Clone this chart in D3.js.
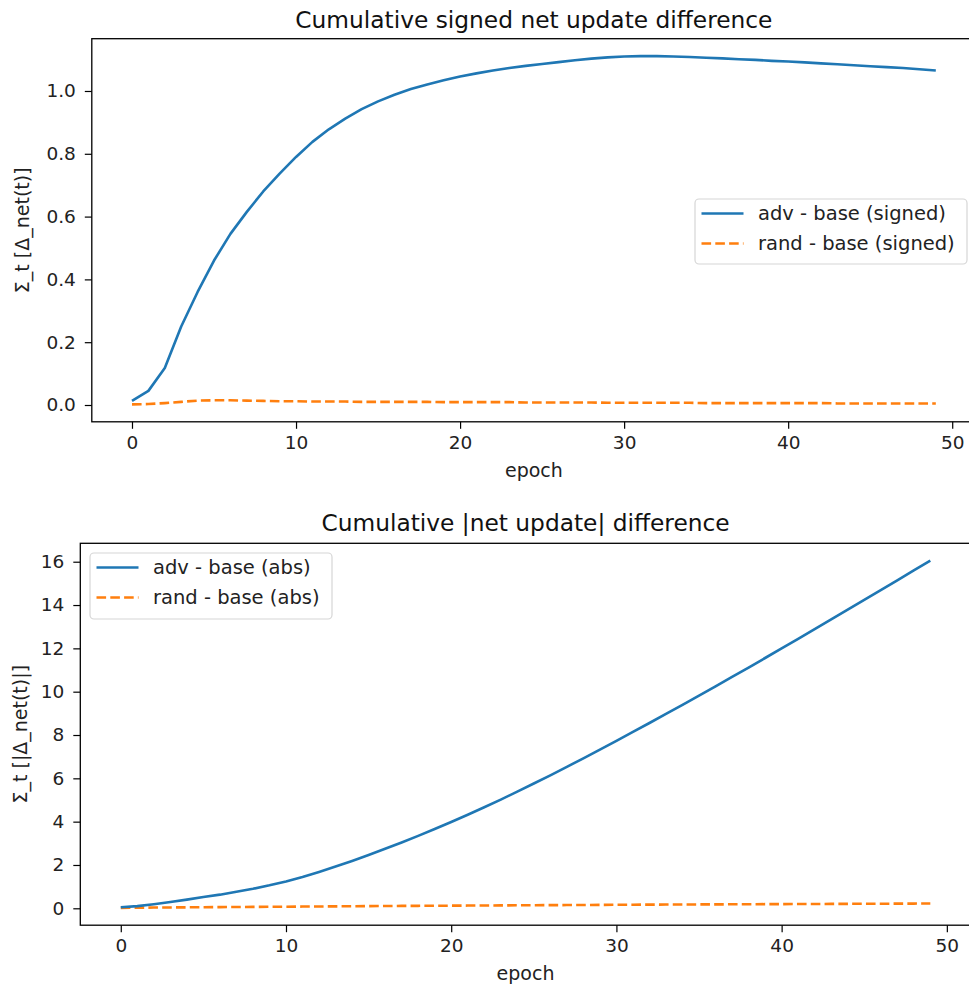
<!DOCTYPE html>
<html>
<head>
<meta charset="utf-8">
<script src="https://cdn.jsdelivr.net/npm/d3@7"></script>
<style>
  body { margin: 0; background: #fff; }
  svg { display: block; font-family: "DejaVu Sans", sans-serif; }
</style>
</head>
<body>
<svg id="chart" width="969" height="988"></svg>
<script>
// epochs 0..49
var epochs = d3.range(50);

var advSigned = [0.013, 0.045, 0.118, 0.25, 0.36, 0.46, 0.545, 0.615, 0.68, 0.737,
                 0.79, 0.838, 0.878, 0.912, 0.942, 0.967, 0.988, 1.006, 1.021, 1.034,
                 1.046, 1.056, 1.065, 1.073, 1.080, 1.086, 1.092, 1.098, 1.103, 1.107,
                 1.110, 1.111, 1.111, 1.110, 1.108, 1.106, 1.104, 1.101, 1.099, 1.096,
                 1.094, 1.091, 1.088, 1.085, 1.082, 1.079, 1.076, 1.073, 1.069, 1.065];

var randSigned = [0.002, 0.003, 0.006, 0.010, 0.014, 0.015, 0.015, 0.014, 0.013, 0.012,
                  0.012, 0.011, 0.011, 0.011, 0.010, 0.010, 0.010, 0.010, 0.010, 0.009,
                  0.009, 0.009, 0.009, 0.009, 0.008, 0.008, 0.008, 0.008, 0.008, 0.007,
                  0.007, 0.007, 0.007, 0.007, 0.007, 0.006, 0.006, 0.006, 0.006, 0.006,
                  0.006, 0.006, 0.006, 0.005, 0.005, 0.005, 0.005, 0.005, 0.005, 0.005];

var advAbs = [0.05, 0.10, 0.19, 0.29, 0.40, 0.52, 0.63, 0.76, 0.90, 1.06,
              1.24, 1.45, 1.68, 1.925, 2.185, 2.46, 2.745, 3.04, 3.345, 3.66,
              3.985, 4.32, 4.665, 5.02, 5.385, 5.76, 6.14, 6.53, 6.925, 7.325,
              7.73, 8.14, 8.555, 8.975, 9.395, 9.82, 10.25, 10.68, 11.115, 11.555,
              11.995, 12.44, 12.885, 13.335, 13.785, 14.235, 14.685, 15.14, 15.595, 16.05];

var randAbs = [0.02, 0.03, 0.035, 0.04, 0.045, 0.05, 0.055, 0.06, 0.065, 0.07,
               0.075, 0.08, 0.085, 0.09, 0.095, 0.10, 0.105, 0.11, 0.114, 0.118,
               0.122, 0.126, 0.13, 0.134, 0.138, 0.142, 0.146, 0.15, 0.154, 0.158,
               0.162, 0.166, 0.17, 0.173, 0.176, 0.179, 0.182, 0.185, 0.188, 0.191,
               0.194, 0.197, 0.2, 0.203, 0.206, 0.209, 0.212, 0.215, 0.218, 0.221];

var xTicks = [0, 10, 20, 30, 40, 50];
var topYTicks = [0.0, 0.2, 0.4, 0.6, 0.8, 1.0];
var botYTicks = [0, 2, 4, 6, 8, 10, 12, 14, 16];

var topTitle = "Cumulative signed net update difference";
var botTitle = "Cumulative |net update| difference";
var topYLabel = "Σ_t [Δ_net(t)]";
var botYLabel = "Σ_t [|Δ_net(t)|]";
var topNames = ["adv - base (signed)", "rand - base (signed)"];
var botNames = ["adv - base (abs)", "rand - base (abs)"];

var blue = "#1f77b4";
var orange = "#ff7f0e";

var svg = d3.select("#chart");
svg.append("rect").attr("width", 969).attr("height", 988).attr("fill", "#fff");

function drawPanel(p) {
    var g = svg.append("g");

    var x = d3.scaleLinear().domain([-2.45, 51.45]).range([p.left, p.right]);
    var y = d3.scaleLinear().domain(p.ydomain).range([p.bottom, p.top]);

    // lines
    var line = d3.line().x(function(d, i) { return x(epochs[i]); }).y(function(d) { return y(d); });

    g.append("path").datum(p.s2)
        .attr("d", line)
        .attr("fill", "none")
        .attr("stroke", orange)
        .attr("stroke-width", 2.6)
        .attr("stroke-dasharray", "9.6,4.2");

    g.append("path").datum(p.s1)
        .attr("d", line)
        .attr("fill", "none")
        .attr("stroke", blue)
        .attr("stroke-width", 2.6)
        .attr("stroke-linejoin", "round");

    // frame
    g.append("rect")
        .attr("x", p.left).attr("y", p.top)
        .attr("width", p.right - p.left).attr("height", p.bottom - p.top)
        .attr("fill", "none").attr("stroke", "#000").attr("stroke-width", 1.3);

    var xa = g.append("g")
        .attr("transform", "translate(0," + p.bottom + ")")
        .call(d3.axisBottom(x).tickValues(xTicks).tickSize(7).tickPadding(7).tickFormat(d3.format("d")));
    var ya = g.append("g")
        .attr("transform", "translate(" + p.left + ",0)")
        .call(d3.axisLeft(y).tickValues(p.yticks).tickSize(7).tickPadding(9).tickFormat(p.yfmt));

    [xa, ya].forEach(function(a) {
        a.select(".domain").remove();
        a.selectAll("line").attr("stroke", "#000").attr("stroke-width", 1.2);
        a.selectAll("text").attr("fill", "#222").attr("font-size", "18.5px")
            .attr("font-family", "DejaVu Sans, sans-serif");
    });

    // titles and labels
    g.append("text")
        .attr("x", (p.left + p.right) / 2).attr("y", p.titleY)
        .attr("text-anchor", "middle").attr("font-size", "23.3px").attr("fill", "#111")
        .text(p.title);

    g.append("text")
        .attr("x", (p.left + p.right) / 2).attr("y", p.bottom + 55)
        .attr("text-anchor", "middle").attr("font-size", "19px").attr("fill", "#222")
        .text("epoch");

    g.append("text")
        .attr("transform", "translate(" + p.ylabX + "," + ((p.top + p.bottom) / 2) + ") rotate(-90)")
        .attr("text-anchor", "middle").attr("font-size", "19px").attr("fill", "#222")
        .text(p.ylabel);

    // legend
    var lg = g.append("g");
    lg.append("rect")
        .attr("x", p.leg[0]).attr("y", p.leg[1])
        .attr("width", p.leg[2]).attr("height", p.leg[3])
        .attr("rx", 4).attr("fill", "#fff").attr("fill-opacity", 0.8)
        .attr("stroke", "#d6d6d6").attr("stroke-width", 1.2);

    var items = [{ name: p.names[0], color: blue, dash: null },
                 { name: p.names[1], color: orange, dash: "9.6,4.2" }];
    items.forEach(function(it, i) {
        var yy = p.leg[1] + 14.5 + i * 30;
        lg.append("line")
            .attr("x1", p.leg[0] + 6.5).attr("x2", p.leg[0] + 48.5)
            .attr("y1", yy).attr("y2", yy)
            .attr("stroke", it.color).attr("stroke-width", 2.6)
            .attr("stroke-dasharray", it.dash);
        lg.append("text")
            .attr("x", p.leg[0] + 63).attr("y", yy)
            .attr("dy", "0.35em")
            .attr("font-size", "19.5px").attr("fill", "#222")
            .text(it.name);
    });
}

drawPanel({
    left: 91.8, right: 976, top: 38.7, bottom: 421.8,
    ydomain: [-0.0535, 1.1665],
    yticks: topYTicks, yfmt: d3.format(".1f"),
    s1: advSigned, s2: randSigned,
    title: topTitle, titleY: 28,
    ylabel: topYLabel, ylabX: 29,
    names: topNames,
    leg: [695, 199, 272, 65]
});

drawPanel({
    left: 80.3, right: 970.8, top: 543.3, bottom: 925.2,
    ydomain: [-0.78, 16.85],
    yticks: botYTicks, yfmt: d3.format("d"),
    s1: advAbs, s2: randAbs,
    title: botTitle, titleY: 531,
    ylabel: botYLabel, ylabX: 27,
    names: botNames,
    leg: [90, 553, 242, 66]
});
</script>
</body>
</html>
